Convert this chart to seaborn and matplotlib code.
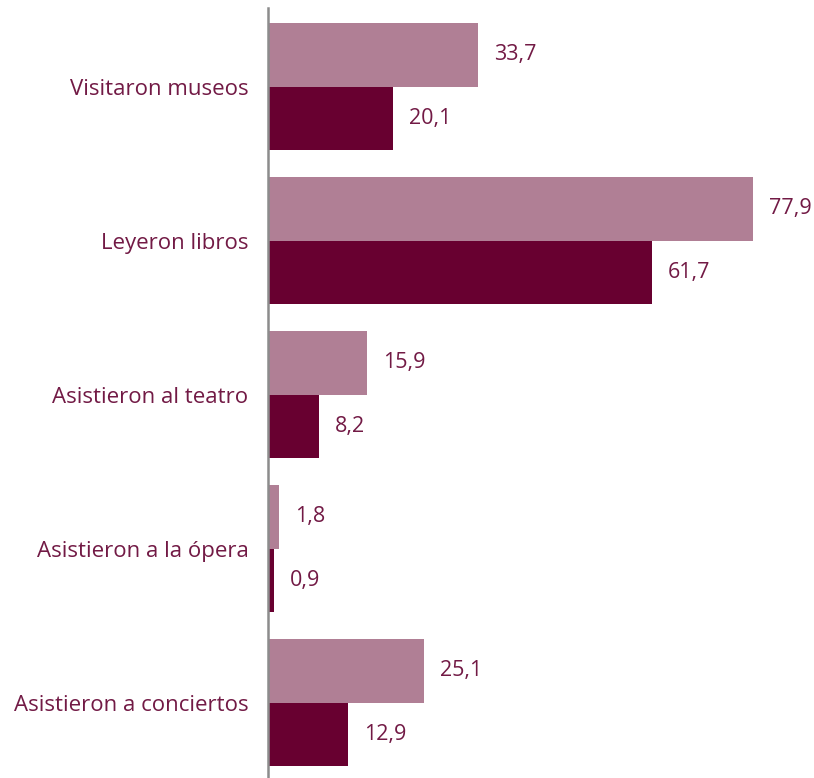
import pandas as pd
import seaborn as sns
import matplotlib.pyplot as plt

categorias = ['Visitaron museos', 'Leyeron libros', 'Asistieron al teatro',
              'Asistieron a la ópera', 'Asistieron a conciertos']
serie_a = [33.7, 77.9, 15.9, 1.8, 25.1]
serie_b = [20.1, 61.7, 8.2, 0.9, 12.9]
series = ['A', 'B']
colores = ['#b07f95', '#680030']
color_texto = '#721a45'

df = pd.DataFrame({
    'categoria': categorias * 2,
    'valor': serie_a + serie_b,
    'serie': [series[0]] * 5 + [series[1]] * 5,
})

sns.set_style('white')
plt.rcParams['font.family'] = ['Open Sans', 'DejaVu Sans']

fig = plt.figure(figsize=(8.14, 7.78), dpi=100)
ax = fig.add_axes([268 / 814, 0, 1 - 268 / 814, 770 / 778])

sns.barplot(data=df, y='categoria', x='valor', hue='serie', orient='h',
            palette=colores, width=0.825, saturation=1, legend=False,
            linewidth=0, ax=ax)

for cont in ax.containers:
    etiquetas = [f'{v:.1f}'.replace('.', ',') for v in cont.datavalues]
    ax.bar_label(cont, labels=etiquetas, padding=11.5, fontsize=15.5, color=color_texto)

ax.set_xlim(0, (814 - 268) / 6.226)
ax.set_ylim(4.49, -0.51)
ax.set_xlabel('')
ax.set_ylabel('')
ax.set_xticks([])
ax.tick_params(axis='y', length=0, pad=14, labelsize=16, labelcolor=color_texto)
for s in ['top', 'right', 'bottom']:
    ax.spines[s].set_visible(False)
ax.spines['left'].set_color('#8c8c8c')
ax.spines['left'].set_linewidth(1.8)

fig.savefig('out.png', dpi=100)
